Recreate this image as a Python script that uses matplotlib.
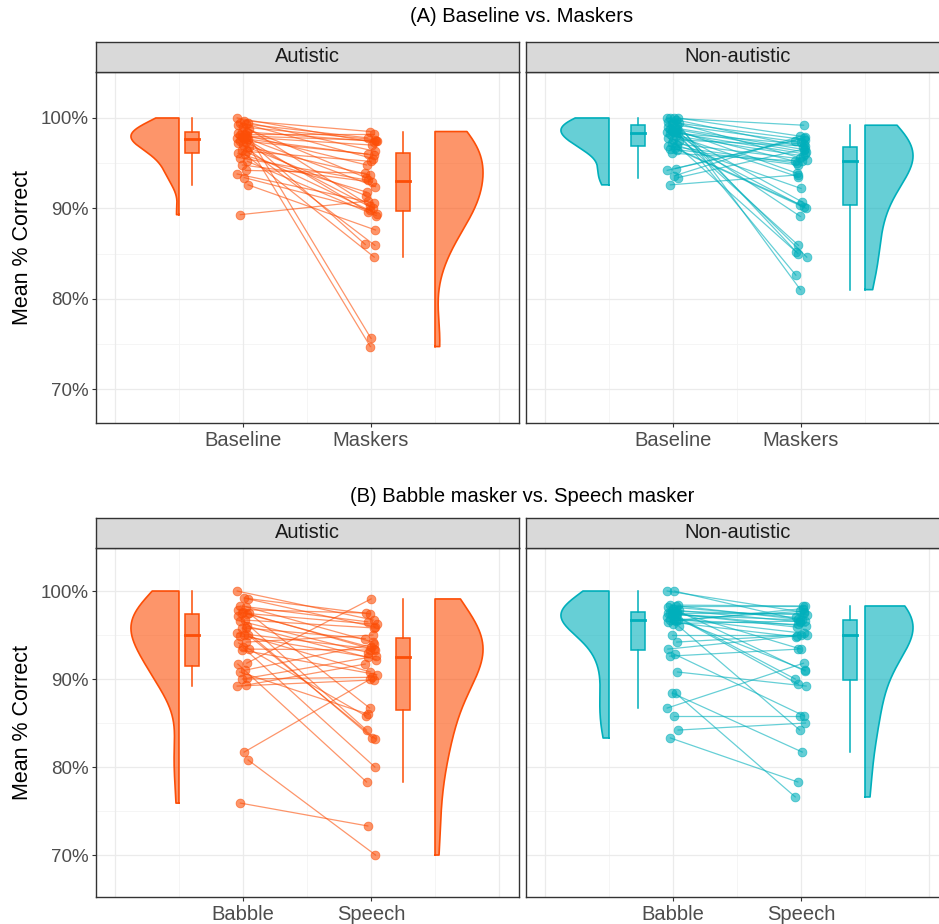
import matplotlib
matplotlib.use("Agg")
import matplotlib.pyplot as plt
import numpy as np
from matplotlib.colors import to_rgba
from matplotlib.patches import Rectangle

plt.rcParams["font.family"] = ["Liberation Sans", "DejaVu Sans"]

AUT_COLOR = "#FC4E07"
NON_COLOR = "#00AFBB"
GROUPS = ["Autistic", "Non-autistic"]

# (A) Baseline vs. Maskers -- one entry per participant, pairs in the same order
A_TITLE = "(A) Baseline vs. Maskers"
A_LABELS = ["Baseline", "Maskers"]
A_AUT_BASELINE = [100.0, 99.7, 99.5, 99.4, 99.3, 99.2, 99.0, 98.8, 98.5, 98.4, 98.3, 98.2,
                  98.1, 98.0, 97.9, 97.8, 97.8, 97.7, 97.7, 97.5, 97.3, 97.2, 97.0, 96.8,
                  96.5, 96.3, 96.1, 96.0, 95.6, 95.2, 94.8, 94.2, 93.8, 93.4, 92.6, 89.3]
A_AUT_MASKERS = [97.3, 98.5, 96.3, 97.8, 95.5, 93.4, 97.6, 90.3, 97.4, 75.6, 94.8, 98.2,
                 89.6, 97.5, 97.0, 86.0, 95.9, 74.7, 92.4, 96.0, 90.0, 91.4, 85.9, 93.7,
                 89.4, 95.2, 91.8, 84.6, 93.1, 89.2, 92.9, 93.9, 90.6, 89.8, 87.6, 90.8]
A_NON_BASELINE = [100.0, 100.0, 100.0, 100.0, 99.8, 99.6, 99.5, 99.4, 99.3, 99.2, 99.0, 98.9,
                  98.8, 98.7, 98.6, 98.5, 98.4, 98.4, 98.3, 98.2, 98.0, 97.8, 97.6, 97.4,
                  97.2, 97.0, 96.9, 96.7, 96.6, 96.5, 96.1, 94.4, 94.2, 93.6, 93.4, 92.6]
A_NON_MASKERS = [99.2, 81.0, 97.9, 85.0, 96.8, 82.6, 97.6, 95.6, 84.6, 97.3, 93.9, 96.5,
                 85.9, 96.2, 90.7, 95.2, 97.1, 89.1, 96.0, 93.5, 95.8, 85.2, 96.9, 90.4,
                 95.4, 92.2, 95.0, 90.2, 94.8, 90.0, 95.2, 97.5, 97.8, 98.0, 96.6, 93.7]

# (B) Babble masker vs. Speech masker
B_TITLE = "(B) Babble masker vs. Speech masker"
B_LABELS = ["Babble", "Speech"]
B_AUT_BABBLE = [100.0, 99.2, 99.1, 98.3, 98.2, 97.9, 97.6, 97.5, 97.5, 97.4, 97.2, 96.7,
                96.6, 96.0, 95.8, 95.8, 95.2, 95.0, 95.0, 94.9, 94.2, 94.1, 93.6, 93.4,
                93.3, 91.8, 91.7, 91.0, 90.8, 90.1, 90.0, 89.3, 89.2, 81.7, 80.8, 75.9]
B_AUT_SPEECH = [96.7, 97.4, 95.9, 96.5, 94.2, 97.5, 93.3, 86.7, 96.2, 93.6, 84.2, 95.8,
                93.0, 92.2, 83.3, 94.6, 93.4, 90.8, 83.2, 92.5, 95.0, 85.8, 80.0, 93.3,
                90.5, 99.1, 78.3, 94.0, 86.0, 92.6, 90.2, 91.7, 89.9, 90.0, 70.0, 73.3]
B_NON_BABBLE = [100.0, 100.0, 98.4, 98.4, 98.3, 98.2, 98.0, 97.8, 97.7, 97.6, 97.5, 97.5,
                97.5, 97.4, 97.3, 97.2, 97.0, 96.7, 96.7, 96.7, 96.6, 96.5, 96.3, 96.0,
                95.0, 94.2, 93.4, 92.8, 92.6, 90.8, 88.4, 88.4, 86.7, 85.8, 84.2, 83.3]
B_NON_SPEECH = [97.6, 96.7, 98.3, 96.8, 98.3, 97.0, 90.9, 96.5, 97.3, 93.4, 95.9, 97.5,
                89.4, 96.0, 96.7, 90.0, 95.2, 97.7, 91.0, 96.2, 98.0, 94.8, 96.6, 84.2,
                95.0, 95.0, 94.9, 85.8, 93.4, 89.2, 81.7, 76.6, 91.8, 85.8, 85.0, 78.3]

JITTER = np.array([-0.045, 0.01, 0.04, -0.02, 0.025, -0.035, 0.0, 0.045, -0.01,
                   0.03, -0.04, 0.015, -0.025, 0.035, -0.005, 0.02])
VIOLIN_HALF = 0.375
BW_ADJUST = 1.5
BOX_WIDTH = 0.11
ALPHA = 0.6
GRID_MAJOR = "#EBEBEB"
GRID_MINOR = "#F4F4F4"
FRAME = "#333333"


def density(values):
    v = np.asarray(values, dtype=float)
    q25, q75 = np.percentile(v, [25, 75])
    spread = min(v.std(ddof=1), (q75 - q25) / 1.34)
    bw = BW_ADJUST * 0.9 * spread * len(v) ** -0.2
    grid = np.linspace(v.min(), v.max(), 400)
    dens = np.exp(-0.5 * ((grid[:, None] - v[None, :]) / bw) ** 2).sum(axis=1)
    return grid, dens / dens.max()


def half_violin(ax, values, x0, side, color):
    y, d = density(values)
    xs = np.concatenate([[x0], x0 + side * VIOLIN_HALF * d, [x0, x0]])
    ys = np.concatenate([[y[0]], y, [y[-1], y[0]]])
    ax.fill(xs, ys, facecolor=to_rgba(color, ALPHA), edgecolor="none", zorder=2)
    ax.plot(xs, ys, color=color, lw=1.2, zorder=2.1, solid_joinstyle="round")


def boxplot(ax, values, x, color):
    v = np.asarray(values, dtype=float)
    q1, med, q3 = np.percentile(v, [25, 50, 75])
    iqr = q3 - q1
    lo = v[v >= q1 - 1.5 * iqr].min()
    hi = v[v <= q3 + 1.5 * iqr].max()
    hw = BOX_WIDTH / 2
    ax.plot([x, x], [q3, hi], color=color, lw=1.1, zorder=3)
    ax.plot([x, x], [lo, q1], color=color, lw=1.1, zorder=3)
    ax.add_patch(Rectangle((x - hw, q1), 2 * hw, q3 - q1, facecolor=to_rgba(color, ALPHA),
                           edgecolor=color, lw=1.1, zorder=3))
    ax.plot([x - hw, x + hw], [med, med], color=color, lw=2.0, zorder=3.1)


def panel(ax, first, second, labels, color, box_shift, ylim):
    for y in (75, 85, 95):
        ax.axhline(y, color=GRID_MINOR, lw=0.6, zorder=0)
    for x in (0.5, 1.5, 2.5):
        ax.axvline(x, color=GRID_MINOR, lw=0.6, zorder=0)
    for y in (70, 80, 90, 100):
        ax.axhline(y, color=GRID_MAJOR, lw=0.9, zorder=0)
    for x in (0, 1, 2, 3):
        ax.axvline(x, color=GRID_MAJOR, lw=0.9, zorder=0)

    half_violin(ax, first, 0.5, -1, color)
    half_violin(ax, second, 2.5, 1, color)
    boxplot(ax, first, 0.6 + box_shift, color)
    boxplot(ax, second, 2.25 + box_shift, color)

    n = len(first)
    x1 = 1 + np.resize(JITTER, n)
    x2 = 2 + np.resize(JITTER[::-1], n)
    for a, b, ya, yb in zip(x1, x2, first, second):
        ax.plot([a, b], [ya, yb], color=color, alpha=ALPHA, lw=0.9, zorder=4)
    ax.scatter(x1, first, s=40, color=color, alpha=ALPHA, linewidths=0.6, zorder=5)
    ax.scatter(x2, second, s=40, color=color, alpha=ALPHA, linewidths=0.6, zorder=5)

    ax.set_xlim(-0.148, 3.156)
    ax.set_ylim(*ylim)
    ax.set_xticks([1, 2])
    ax.set_xticklabels(labels)
    ax.set_yticks([70, 80, 90, 100])
    ax.set_yticklabels(["70%", "80%", "90%", "100%"])
    ax.tick_params(colors="#333333", labelcolor="#4D4D4D", length=3, width=0.8, pad=2.5)
    ax.tick_params(axis="x", labelsize=14.5)
    ax.tick_params(axis="y", labelsize=13.5)
    for s in ax.spines.values():
        s.set_color(FRAME)
        s.set_linewidth(1.0)


def strip(fig, rect, text):
    sax = fig.add_axes(rect)
    sax.set_facecolor("#D9D9D9")
    sax.set_xticks([])
    sax.set_yticks([])
    for s in sax.spines.values():
        s.set_color(FRAME)
        s.set_linewidth(1.0)
    sax.text(0.5, 0.5, text, ha="center", va="center", fontsize=14.5,
             color="#1A1A1A", transform=sax.transAxes)


def main():
    W, H = 939, 924
    fig = plt.figure(figsize=(W / 100, H / 100), dpi=100)
    rows = [
        (A_TITLE, A_LABELS, [(A_AUT_BASELINE, A_AUT_MASKERS), (A_NON_BASELINE, A_NON_MASKERS)],
         17, 42, 72, 423, (66.24, 105.09)),
        (B_TITLE, B_LABELS, [(B_AUT_BABBLE, B_AUT_SPEECH), (B_NON_BABBLE, B_NON_SPEECH)],
         497, 518, 548, 897, (65.23, 104.89)),
    ]
    lefts = [96, 526]
    pw = 423
    colors = [AUT_COLOR, NON_COLOR]
    shifts = [0.0, 0.13]
    for title, labels, data, ty, st, pt, pb, ylim in rows:
        fig.text(522 / W, 1 - ty / H, title, ha="center", va="center", fontsize=14.5)
        for i, (first, second) in enumerate(data):
            ax = fig.add_axes([lefts[i] / W, 1 - pb / H, pw / W, (pb - pt) / H])
            panel(ax, first, second, labels, colors[i], shifts[i], ylim)
            if i == 0:
                ax.set_ylabel("Mean % Correct", fontsize=15.5, labelpad=5)
            else:
                ax.tick_params(axis="y", left=False, labelleft=False)
            strip(fig, [lefts[i] / W, 1 - pt / H, pw / W, (pt - st) / H], GROUPS[i])
    fig.savefig("out.png", dpi=100)
    plt.close(fig)


if __name__ == "__main__":
    main()
